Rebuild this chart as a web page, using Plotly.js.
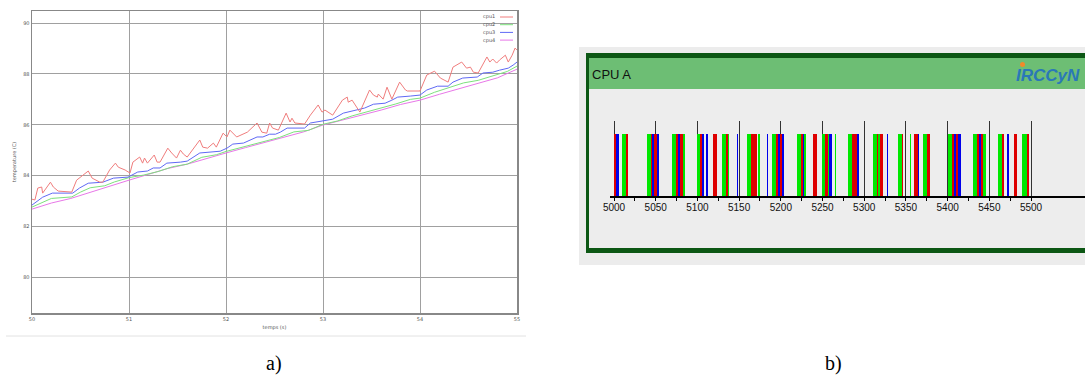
<!DOCTYPE html>
<html><head><meta charset="utf-8">
<script src="https://cdn.plot.ly/plotly-3.0.1.min.js"></script>
<style>html,body{margin:0;padding:0;background:#fff;} #chart{width:1085px;height:381px;}</style>
</head><body><div id="chart"></div>
<script>
// ---------- panel a: CPU temperatures ----------
const cpu1T = [50.00,50.03,50.06,50.10,50.11,50.19,50.22,50.27,50.41,50.46,
  50.58,50.62,50.70,50.73,50.80,50.86,50.89,50.96,51.01,51.04,
  51.11,51.14,51.16,51.19,51.26,51.29,51.32,51.40,51.44,51.49,
  51.53,51.56,51.60,51.73,51.76,51.81,51.87,51.90,51.97,52.01,
  52.04,52.11,52.22,52.32,52.37,52.42,52.45,52.48,52.54,52.62,
  52.66,52.68,52.71,52.81,52.87,52.95,52.99,53.02,53.10,53.20,
  53.25,53.26,53.30,53.38,53.48,53.52,53.56,53.57,53.62,53.66,
  53.71,53.79,53.85,53.87,54.00,54.07,54.15,54.21,54.29,54.34,
  54.43,54.48,54.52,54.55,54.60,54.69,54.72,54.75,54.79,54.82,
  54.88,54.91,54.95,54.98,55.00];
const cpu1V = [83.07,83.04,83.51,83.55,83.31,83.74,83.55,83.39,83.35,83.82,
  84.18,83.90,83.74,83.74,84.22,84.49,84.33,84.22,84.10,84.53,
  84.73,84.49,84.69,84.49,84.81,84.53,84.53,85.08,84.89,84.69,
  85.00,84.85,84.73,85.40,85.12,85.08,85.28,85.12,85.67,85.52,
  85.79,85.52,85.71,86.07,85.71,85.67,86.07,85.87,85.79,86.46,
  86.11,86.26,86.07,86.03,86.38,86.78,86.50,86.58,86.38,86.97,
  87.09,86.89,86.97,86.50,87.37,87.17,87.09,87.21,87.01,87.48,
  87.01,87.68,87.37,87.33,87.33,87.96,88.11,87.84,87.68,88.27,
  88.47,88.23,88.27,88.07,88.04,88.67,88.47,88.59,88.43,88.55,
  88.74,88.47,88.74,89.02,88.94];
const cpu2T = [50.00,50.11,50.20,50.41,50.50,50.60,50.75,50.85,51.00,51.15,
  51.30,51.45,51.60,51.75,51.90,52.00,52.10,52.25,52.40,52.55,
  52.70,52.85,53.00,53.15,53.30,53.45,53.60,53.75,53.90,54.00,
  54.15,54.30,54.45,54.60,54.75,54.90,55.00];
const cpu2V = [82.76,82.95,83.10,83.16,83.35,83.52,83.60,83.75,83.92,84.02,
  84.16,84.35,84.45,84.72,84.82,84.95,85.05,85.20,85.38,85.50,
  85.72,85.78,86.02,86.15,86.35,86.50,86.68,86.82,87.00,87.05,
  87.28,87.45,87.65,87.75,87.92,88.10,88.31];
const cpu3T = [50.00,50.11,50.21,50.42,50.49,50.58,50.73,50.84,50.99,51.09,
  51.19,51.25,51.32,51.39,51.53,51.60,51.73,51.94,52.01,52.07,
  52.18,52.32,52.38,52.45,52.51,52.56,52.63,52.81,52.87,52.99,
  53.10,53.21,53.33,53.43,53.52,53.64,53.71,53.77,53.90,54.00,
  54.07,54.18,54.29,54.34,54.44,54.59,54.65,54.75,54.82,54.91,
  54.96,55.00];
const cpu3V = [82.84,83.15,83.31,83.31,83.51,83.70,83.74,83.90,83.94,84.14,
  84.18,84.30,84.30,84.49,84.53,84.57,84.89,84.96,85.08,85.24,
  85.28,85.52,85.52,85.63,85.63,85.71,85.87,85.87,86.07,86.16,
  86.22,86.46,86.58,86.66,86.81,86.85,86.97,87.09,87.13,87.17,
  87.37,87.52,87.52,87.68,87.84,87.88,88.04,88.07,88.15,88.23,
  88.35,88.47];
const cpu4T = [50.0,50.2,50.4,50.6,50.8,51.0,51.2,51.4,51.6,51.8,
  52.0,52.2,52.4,52.6,52.8,53.0,53.2,53.4,53.6,53.8,
  54.0,54.2,54.4,54.6,54.8,55.0];
const cpu4V = [82.68,82.92,83.10,83.35,83.60,83.82,84.05,84.28,84.45,84.68,
  84.89,85.10,85.30,85.50,85.72,85.99,86.18,86.38,86.58,86.80,
  86.97,87.20,87.42,87.62,87.85,88.19];
const seriesNames = ['cpu1','cpu2','cpu3','cpu4'];
const timeTicks = [50,51,52,53,54,55];
const tempTicks = [80,82,84,86,88,90];

// ---------- panel b: CPU A schedule ----------
const barStart = [5000,5002,5009,5014,5039,5044,5046,5048,5051,5052,
  5069,5074,5077,5079,5083,5100,5103,5106,5110.5,5119,
  5129,5134,5137,5147,5159,5164,5173,5183,5189,5194,
  5197,5199,5202,5219,5224,5226,5228,5239,5249,5253,
  5257,5258,5265,5280,5285.5,5291.5,5310,5315,5317,5319,
  5327,5340,5345,5355,5360,5364,5370,5375.5,5401,5405,
  5408,5410,5413,5430,5435,5438,5440,5443,5460,5465,
  5471.5,5479.5,5489.5,5495];
const barEnd = [5002,5006,5014,5017,5044,5046,5048,5051,5052,5054,
  5074,5077,5079,5083,5085,5103,5106,5107.5,5112.5,5123,
  5134,5137,5138,5149,5164,5171,5174.5,5185,5194,5197,
  5199,5202,5204,5224,5226,5228,5230,5243,5253,5257,
  5258,5261,5266,5285.5,5291.5,5293.5,5315,5317,5319,5323,
  5329,5345,5347,5356,5364,5366,5375.5,5378.5,5405,5408,
  5410,5413,5416,5435,5438,5440,5443,5446,5465,5467.5,
  5473.5,5483.5,5495,5498];
const barTask = ['R','B','G','R','G','R','B','R','G','B',
  'G','R','B','R','G','G','R','B','B','R',
  'G','R','G','B','G','R','G','B','G','R',
  'B','R','B','G','R','B','G','R','G','R',
  'G','B','G','G','R','B','G','R','G','R',
  'B','G','R','G','R','B','G','R','G','R',
  'B','R','B','G','R','B','R','G','G','R',
  'B','R','G','R'];
const scheduleTicks = [5000,5050,5100,5150,5200,5250,5300,5350,5400,5450,5500];
const scheduleMinor = [5025,5075,5125,5175,5225,5275,5325,5375,5425,5475];

const W = 1085, H = 381;
const px = x => x / W, py = y => 1 - y / H;

const lineColors = {cpu1:'rgb(240,125,125)', cpu2:'rgb(125,225,125)', cpu3:'rgb(95,105,245)', cpu4:'rgb(232,120,232)'};
const lineData = {cpu1:[cpu1T,cpu1V], cpu2:[cpu2T,cpu2V], cpu3:[cpu3T,cpu3V], cpu4:[cpu4T,cpu4V]};

const traces = [];
['cpu4','cpu2','cpu3','cpu1'].forEach(n => {
  traces.push({type:'scatter', mode:'lines', name:n, x:lineData[n][0], y:lineData[n][1],
    line:{color:lineColors[n], width:1}, xaxis:'x', yaxis:'y', hoverinfo:'skip', showlegend:false});
});

const taskColors = {R:'rgb(222,0,0)', G:'rgb(0,232,0)', B:'rgb(0,0,235)'};
['G','R','B'].forEach(k => {
  const xs = [], ws = [], ys = [];
  barTask.forEach((t, i) => {
    if (t !== k) return;
    xs.push((barStart[i] + barEnd[i]) / 2);
    ws.push(barEnd[i] - barStart[i]);
    ys.push(1);
  });
  traces.push({type:'bar', x:xs, y:ys, width:ws, base:0, xaxis:'x2', yaxis:'y2',
    marker:{color:taskColors[k], line:{width:0}}, hoverinfo:'skip', showlegend:false});
});

const smallFont = {family:'DejaVu Sans, sans-serif', size:5, color:'#555'};
const tickFamily = 'Liberation Sans, sans-serif';

const shapes = [
  {type:'line', xref:'paper', yref:'paper', x0:px(6), x1:px(526), y0:py(336), y1:py(336), line:{color:'#e2e2e2', width:1}, layer:'below'},
  {type:'rect', xref:'paper', yref:'paper', x0:px(579), x1:1.01, y0:py(265), y1:py(47), fillcolor:'#ececec', line:{width:0}, layer:'below'},
  {type:'rect', xref:'paper', yref:'paper', x0:px(586), x1:1.01, y0:py(253), y1:py(53), fillcolor:'#0c5714', line:{width:0}, layer:'below'},
  {type:'rect', xref:'paper', yref:'paper', x0:px(589), x1:1.01, y0:py(248), y1:py(58), fillcolor:'#ededed', line:{width:0}, layer:'below'},
  {type:'rect', xref:'paper', yref:'paper', x0:px(589), x1:1.01, y0:py(89), y1:py(58), fillcolor:'#6dbe74', line:{width:0}, layer:'below'},
  {type:'circle', xref:'paper', yref:'paper', x0:px(1020), x1:px(1025), y0:py(67), y1:py(62), fillcolor:'#f28a2a', line:{width:0}, layer:'above'}
];
const annotations = [
  {xref:'paper', yref:'paper', x:px(590), y:py(74), xanchor:'left', yanchor:'middle', showarrow:false,
   text:'CPU A', font:{family:tickFamily, size:13, color:'#111'}},
  {xref:'paper', yref:'paper', x:px(1048), y:py(75), xanchor:'center', yanchor:'middle', showarrow:false,
   text:'<b><i>IRCCyN</i></b>', font:{family:'Liberation Sans, sans-serif', size:17, color:'#2a78b8'}},
  {xref:'paper', yref:'paper', x:px(274), y:py(363), xanchor:'center', yanchor:'middle', showarrow:false,
   text:'a)', font:{family:'Liberation Serif, serif', size:20, color:'#000'}},
  {xref:'paper', yref:'paper', x:px(833), y:py(363), xanchor:'center', yanchor:'middle', showarrow:false,
   text:'b)', font:{family:'Liberation Serif, serif', size:20, color:'#000'}}
];
seriesNames.forEach((n, i) => {
  const yy = 17 + i * 7.7;
  annotations.push({xref:'paper', yref:'paper', x:px(497), y:py(yy), xanchor:'right', yanchor:'middle', showarrow:false,
    text:n, font:smallFont});
  shapes.push({type:'line', xref:'paper', yref:'paper', x0:px(500), x1:px(513), y0:py(yy), y1:py(yy),
    line:{color:lineColors[n], width:1}});
});

const layout = {
  width:W, height:H, margin:{l:0, r:0, t:0, b:0},
  paper_bgcolor:'#fff', plot_bgcolor:'rgba(0,0,0,0)',
  font:{family:'DejaVu Sans, sans-serif'},
  showlegend:false, barmode:'overlay', bargap:0,
  xaxis:{domain:[px(32), px(517)], range:[50,55], anchor:'y',
    tickmode:'array', tickvals:timeTicks, ticktext:timeTicks.map(String),
    showgrid:true, gridcolor:'#a0a0a0', gridwidth:1, zeroline:false,
    showline:true, mirror:true, linecolor:'#888', linewidth:1.5, ticks:'',
    tickfont:smallFont, title:{text:'temps (s)', font:smallFont, standoff:5}, automargin:false},
  yaxis:{domain:[py(313), py(11)], range:[78.59,90.48], anchor:'x',
    tickmode:'array', tickvals:tempTicks, ticktext:tempTicks.map(String),
    showgrid:true, gridcolor:'#a0a0a0', gridwidth:1, zeroline:false,
    showline:true, mirror:true, linecolor:'#888', linewidth:1.5, ticks:'',
    tickfont:smallFont, title:{text:'temperature (C)', font:smallFont, standoff:6}, automargin:false},
  xaxis2:{domain:[px(610), 1], range:[4995.2, 5564.7], anchor:'y2',
    tickmode:'array', tickvals:scheduleTicks, ticktext:scheduleTicks.map(String),
    showgrid:true, gridcolor:'#333', gridwidth:1, zeroline:false,
    showline:true, linecolor:'#000', linewidth:2, ticks:'outside', ticklen:3, tickcolor:'#000', tickwidth:1,
    ticklabelstandoff:-2,
    minor:{tickmode:'array', tickvals:scheduleMinor, ticks:'outside', ticklen:3, tickcolor:'#000', tickwidth:1, showgrid:false},
    tickfont:{family:tickFamily, size:10, color:'#111'}, automargin:false},
  yaxis2:{domain:[py(196), py(121)], range:[0, 1.2097], anchor:'x2',
    visible:false, showgrid:false, zeroline:false, fixedrange:true},
  shapes:shapes, annotations:annotations
};

Plotly.newPlot('chart', traces, layout, {staticPlot:true, displayModeBar:false});
</script>
</body></html>
